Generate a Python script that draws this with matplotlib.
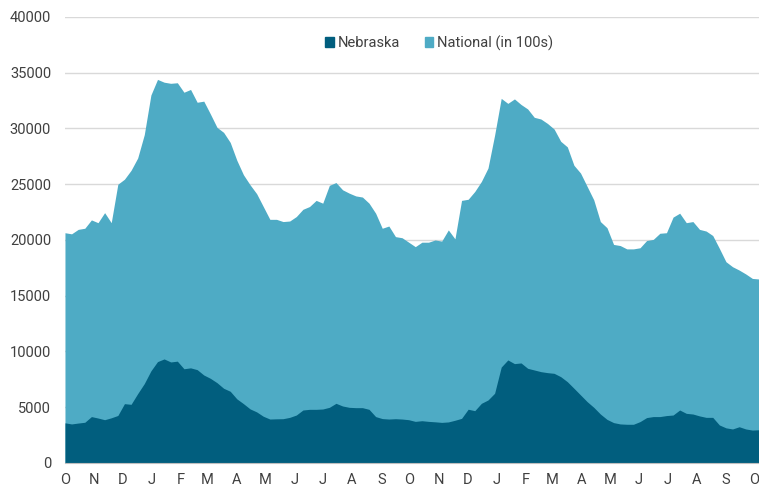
import numpy as np
import pandas as pd
import matplotlib
matplotlib.use("Agg")
import matplotlib.pyplot as plt
import matplotlib.dates as mdates
from matplotlib.patches import Patch
from matplotlib.ticker import FuncFormatter

plt.rcParams['font.family'] = ['Roboto', 'DejaVu Sans']

# weekly data, Oct 2021 - Oct 2023
weeks = pd.date_range("2021-10-01", periods=106, freq="7D")

nebraska = [
    3600, 3500, 3580, 3650, 4160, 4030, 3880, 4050, 4260, 5320,
    5260, 6220, 7120, 8260, 9090, 9330, 9060, 9130, 8450, 8530,
    8370, 7890, 7590, 7200, 6700, 6430, 5750, 5320, 4850, 4580,
    4190, 3940, 3960, 3970, 4090, 4300, 4750, 4810, 4810, 4840,
    4990, 5350, 5110, 4990, 4960, 4960, 4810, 4160, 3980, 3940,
    3970, 3940, 3880, 3730, 3790, 3730, 3690, 3640, 3680, 3830,
    4000, 4820, 4690, 5350, 5650, 6250, 8600, 9240, 8910, 8970,
    8490, 8340, 8190, 8100, 8040, 7740, 7290, 6700, 6100, 5500,
    4990, 4390, 3910, 3620, 3500, 3470, 3470, 3710, 4070, 4160,
    4160, 4250, 4300, 4750, 4450, 4390, 4220, 4090, 4090, 3410,
    3150, 3050, 3250, 3050, 2950, 2980,
]

national = [
    20650, 20550, 20950, 21050, 21800, 21550, 22450, 21550, 25000, 25450,
    26250, 27350, 29450, 33000, 34400, 34150, 34050, 34100, 33250, 33500,
    32350, 32450, 31300, 30100, 29650, 28750, 27150, 25850, 24950, 24150,
    23000, 21850, 21850, 21650, 21700, 22100, 22750, 23000, 23550, 23300,
    24900, 25150, 24500, 24200, 23950, 23850, 23300, 22400, 21050, 21250,
    20300, 20200, 19800, 19400, 19800, 19800, 20000, 19900, 20900, 20100,
    23550, 23650, 24350, 25250, 26450, 29400, 32700, 32250, 32650, 32150,
    31750, 31000, 30850, 30450, 29950, 28850, 28350, 26700, 26000, 24800,
    23600, 21650, 21100, 19600, 19500, 19200, 19200, 19300, 19950, 20050,
    20600, 20650, 22050, 22400, 21550, 21650, 20950, 20800, 20400, 19250,
    18050, 17600, 17300, 16950, 16550, 16500,
]

labels = ["Nebraska", "National (in 100s)"]
colors = ["#015E7E", "#4EABC5"]

fig = plt.figure(figsize=(7.59, 4.92), dpi=100)
ax = fig.add_axes([0.0856, 0.059, 0.9144, 0.9065])

ax.fill_between(weeks, national, color=colors[1], linewidth=0, zorder=2)
ax.fill_between(weeks, nebraska, color=colors[0], linewidth=0, zorder=3)

ax.set_xlim(weeks[0], weeks[-1])
ax.set_ylim(0, 40000)
ax.set_yticks(np.arange(0, 40001, 5000))
ax.grid(axis='y', color='#D9D9D9', linewidth=1, zorder=0)
ax.set_axisbelow(True)

ax.xaxis.set_major_locator(mdates.MonthLocator())
ax.xaxis.set_major_formatter(FuncFormatter(lambda v, p: mdates.num2date(v).strftime("%b")[0]))

ax.tick_params(axis='both', length=0, labelsize=10.5, colors='#404040')
ax.tick_params(axis='y', pad=10)
ax.tick_params(axis='x', pad=7.5)

for s in ['top', 'right', 'left']:
    ax.spines[s].set_visible(False)
ax.spines['bottom'].set_color('#BFBFBF')
ax.spines['bottom'].set_zorder(4)

handles = [Patch(color=c) for c in colors]
leg = ax.legend(handles, labels, loc='center', bbox_to_anchor=(0.539, 0.942), ncol=2,
                frameon=False, fontsize=10.5, handlelength=0.6, handleheight=0.6,
                handletextpad=0.25, columnspacing=1.7)
for t in leg.get_texts():
    t.set_color('#404040')

fig.savefig("out.png", dpi=100)
